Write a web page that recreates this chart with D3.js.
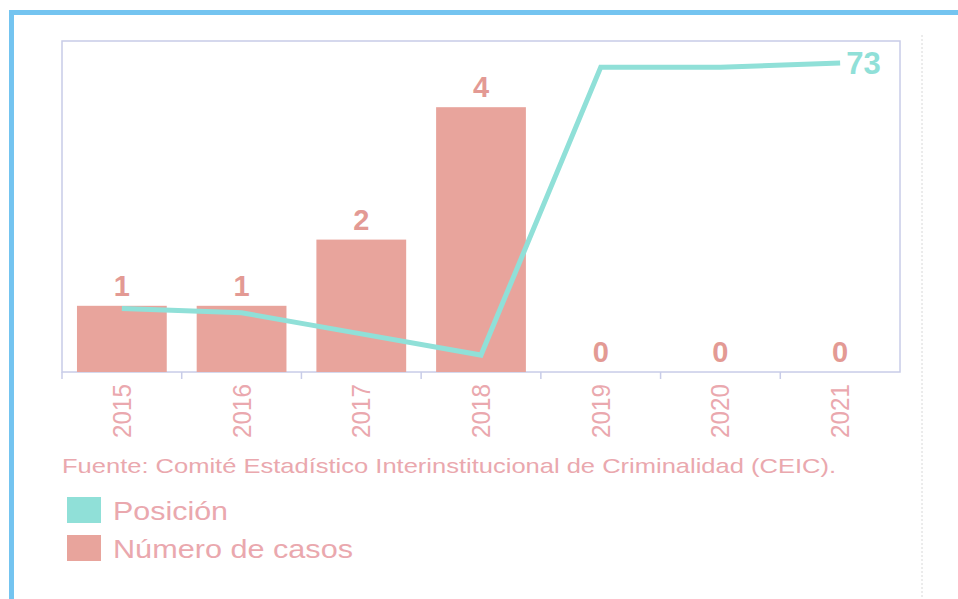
<!doctype html>
<html>

<head>
    <title>casos y posicion</title>
    <script src="https://d3js.org/d3.v7.min.js"></script>
    <style>
        body { margin: 0; background: #fff; }
        svg { font-family: "Liberation Sans", Arial, sans-serif; }
    </style>
</head>

<body>
    <svg width="958" height="599"></svg>
    <script>
        // data
        var years = ["2015", "2016", "2017", "2018", "2019", "2020", "2021"];
        var casos = [1, 1, 2, 4, 0, 0, 0];
        var posicion = [15, 14, 9, 4, 72, 72, 73];
        var legendLabels = ["Posición", "Número de casos"];

        var pink = "#e8a49c",
            teal = "#90e0d8",
            textPink = "#eaa8ae",
            frameColor = "#c8cce8";

        var svg = d3.select("svg");

        // scanned page border
        svg.append("path")
            .attr("d", "M11.5,599 L11.5,12.5 L958,12.5")
            .attr("fill", "none")
            .attr("stroke", "#74c4f0")
            .attr("stroke-width", 5);

        svg.append("line")
            .attr("x1", 922).attr("x2", 922)
            .attr("y1", 35).attr("y2", 599)
            .attr("stroke", "#d8d8d8")
            .attr("stroke-dasharray", "2,2");

        var marginLeft = 62, marginTop = 41, width = 838, height = 331;

        var g = svg.append("g")
            .attr("transform", "translate(" + marginLeft + "," + marginTop + ")");

        var x = d3.scaleBand().domain(years).range([0, width])
            .paddingInner(0.25).paddingOuter(0.125);
        var y = d3.scaleLinear().domain([0, 5]).range([height, 0]);
        var y2 = d3.scaleLinear().domain([0, 78.2]).range([height, 0]);

        // plot frame
        g.append("rect")
            .attr("width", width)
            .attr("height", height)
            .attr("fill", "none")
            .attr("stroke", frameColor)
            .attr("stroke-width", 1.5);

        g.selectAll(".bar")
            .data(casos)
            .enter()
            .append("rect")
            .attr("class", "bar")
            .attr("x", function (d, i) { return x(years[i]); })
            .attr("y", function (d) { return y(d); })
            .attr("width", x.bandwidth())
            .attr("height", function (d) { return height - y(d); })
            .attr("fill", pink);

        g.selectAll(".barlabel")
            .data(casos)
            .enter()
            .append("text")
            .attr("class", "barlabel")
            .attr("x", function (d, i) { return x(years[i]) + x.bandwidth() / 2; })
            .attr("y", function (d) { return y(d) - 10; })
            .attr("text-anchor", "middle")
            .attr("font-size", "29px")
            .attr("font-weight", "bold")
            .attr("fill", "#e39a94")
            .text(function (d) { return d; });

        var line = d3.line()
            .x(function (d, i) { return x(years[i]) + x.bandwidth() / 2; })
            .y(function (d) { return y2(d); });

        g.append("path")
            .datum(posicion)
            .attr("d", line)
            .attr("fill", "none")
            .attr("stroke", teal)
            .attr("stroke-width", 5);

        var last = posicion.length - 1;
        g.append("text")
            .attr("x", x(years[last]) + x.bandwidth() / 2 + 6)
            .attr("y", y2(posicion[last]) + 11)
            .attr("font-size", "31px")
            .attr("font-weight", "bold")
            .attr("fill", teal)
            .text(posicion[last]);

        // x axis: ticks at band edges
        var xAxis = g.append("g")
            .attr("transform", "translate(0," + height + ")");

        xAxis.selectAll(".tick")
            .data(d3.range(years.length))
            .enter()
            .append("line")
            .attr("x1", function (i) { return i * x.step(); })
            .attr("x2", function (i) { return i * x.step(); })
            .attr("y1", 0)
            .attr("y2", 7)
            .attr("stroke", frameColor)
            .attr("stroke-width", 1.5);

        xAxis.selectAll(".year")
            .data(years)
            .enter()
            .append("text")
            .attr("class", "year")
            .attr("transform", function (d) {
                return "translate(" + (x(d) + x.bandwidth() / 2 + 9) + ",12) rotate(-90)";
            })
            .attr("text-anchor", "end")
            .attr("font-size", "25px")
            .attr("textLength", 54)
            .attr("lengthAdjust", "spacingAndGlyphs")
            .attr("fill", textPink)
            .text(function (d) { return d; });

        svg.append("text")
            .attr("x", 62)
            .attr("y", 473)
            .attr("font-size", "21px")
            .attr("textLength", 774)
            .attr("lengthAdjust", "spacingAndGlyphs")
            .attr("fill", textPink)
            .text("Fuente: Comité Estadístico Interinstitucional de Criminalidad (CEIC).");

        var legend = svg.selectAll(".legend")
            .data(legendLabels)
            .enter()
            .append("g")
            .attr("class", "legend")
            .attr("transform", function (d, i) { return "translate(67," + (497 + i * 38) + ")"; });

        legend.append("rect")
            .attr("width", 34)
            .attr("height", 26)
            .attr("fill", function (d, i) { return i === 0 ? teal : pink; });

        legend.append("text")
            .attr("x", 46)
            .attr("y", 23)
            .attr("font-size", "25px")
            .attr("textLength", function (d, i) { return i === 0 ? 115 : 240; })
            .attr("lengthAdjust", "spacingAndGlyphs")
            .attr("fill", textPink)
            .text(function (d) { return d; });
    </script>
</body>

</html>
